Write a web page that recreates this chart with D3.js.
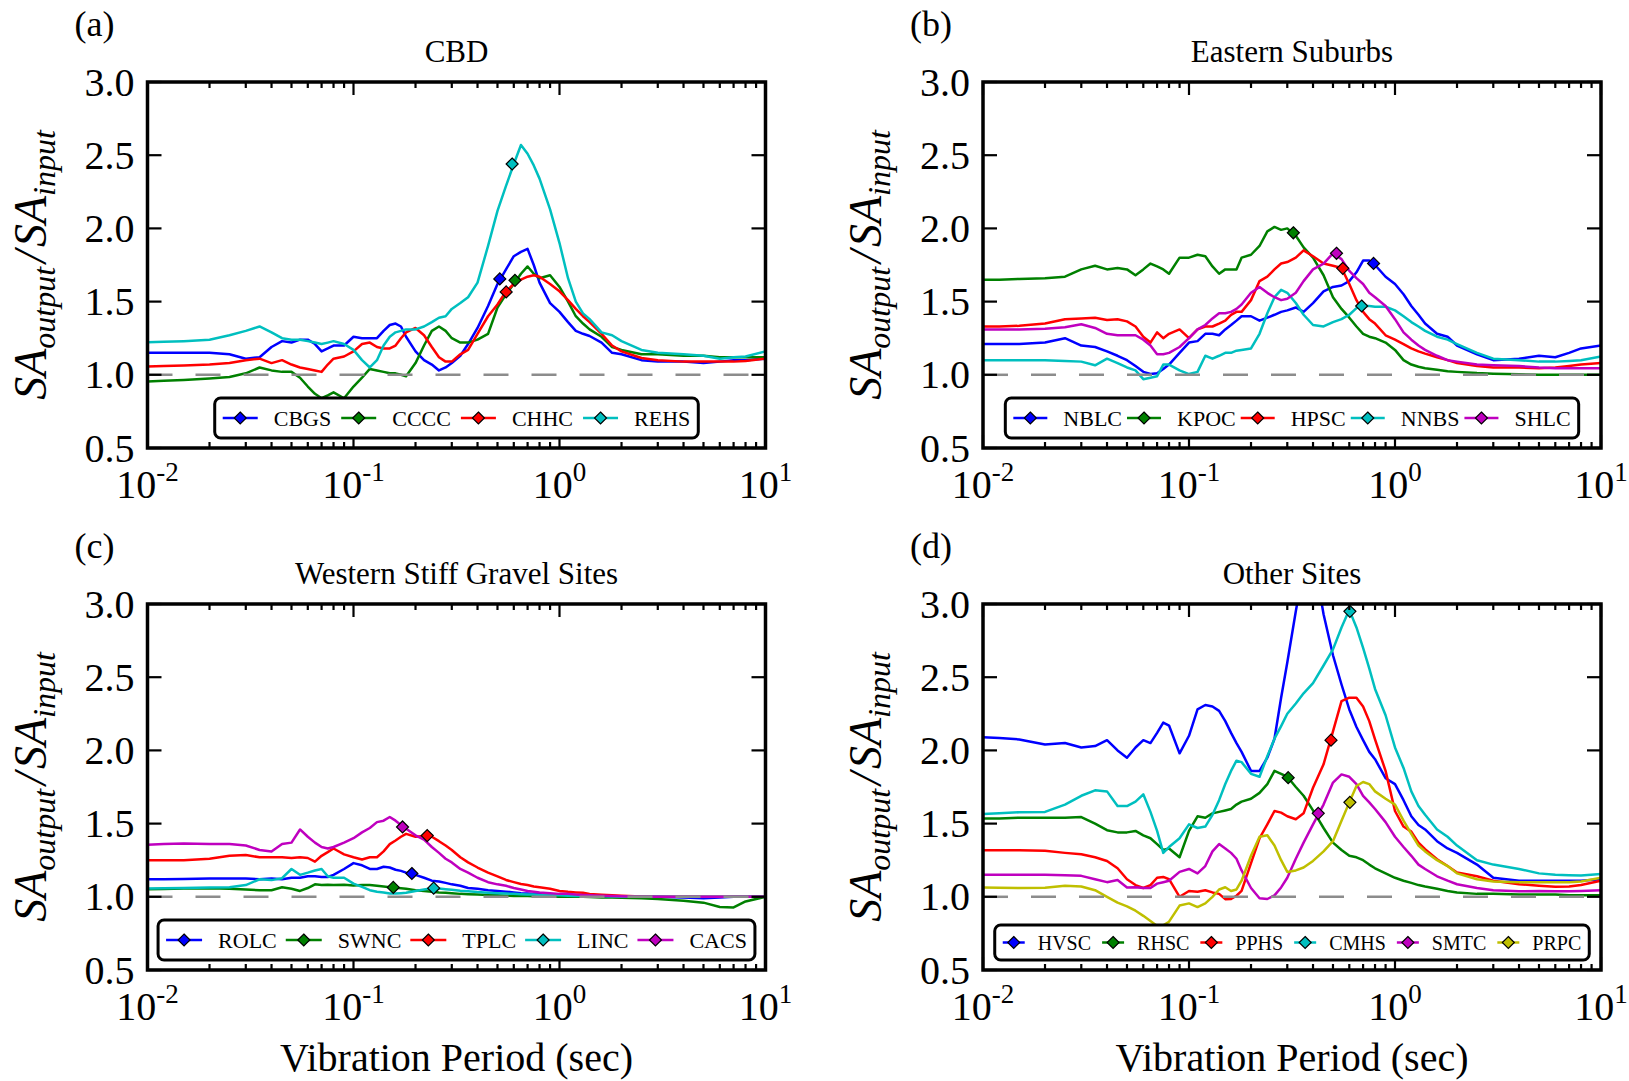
<!DOCTYPE html>
<html>
<head>
<meta charset="utf-8">
<script src="https://cdn.jsdelivr.net/npm/d3@7"></script>
<style>
  body { margin: 0; background: #fff; }
  text { font-family: "Liberation Serif", "Times New Roman", serif; fill: #000; }
</style>
</head>
<body>
<script>
//-----------------------------------------------------//
// Data: period grid (sec) shared by every curve

const periods = [0.01, 0.012, 0.015, 0.02, 0.025, 0.03, 0.035, 0.04, 0.045, 0.05,
  0.055, 0.06, 0.065, 0.07, 0.075, 0.08, 0.09, 0.1, 0.11, 0.12,
  0.13, 0.14, 0.15, 0.16, 0.17, 0.18, 0.2, 0.22, 0.24, 0.26,
  0.28, 0.3, 0.33, 0.36, 0.4, 0.45, 0.5, 0.55, 0.6, 0.65,
  0.7, 0.75, 0.8, 0.9, 1.0, 1.1, 1.2, 1.3, 1.4, 1.6,
  1.8, 2.0, 2.5, 3, 4, 5, 6, 7, 8, 10];

const yTicks = [0.5, 1.0, 1.5, 2.0, 2.5, 3.0];
const xTicks = [0.01, 0.1, 1, 10];
const xTickExp = ["-2", "-1", "0", "1"];

// (a) CBD
const cbdSites = ["CBGS", "CCCC", "CHHC", "REHS"];
const CBGS = [1.15, 1.15, 1.15, 1.15, 1.14, 1.11, 1.12, 1.19, 1.23, 1.22,
  1.24, 1.24, 1.21, 1.16, 1.18, 1.20, 1.20, 1.26, 1.25, 1.25,
  1.25, 1.30, 1.34, 1.35, 1.33, 1.26, 1.16, 1.10, 1.07, 1.03,
  1.05, 1.08, 1.13, 1.21, 1.32, 1.47, 1.62, 1.72, 1.81, 1.84,
  1.86, 1.75, 1.63, 1.49, 1.43, 1.36, 1.30, 1.28, 1.265, 1.22,
  1.15, 1.14, 1.10, 1.09, 1.09, 1.08, 1.09, 1.10, 1.10, 1.11];
const CCCC = [0.955, 0.96, 0.965, 0.975, 0.985, 1.01, 1.05, 1.03, 1.02, 1.02,
  0.98, 0.92, 0.87, 0.84, 0.86, 0.88, 0.84, 0.92, 0.98, 1.04,
  1.03, 1.02, 1.01, 1.01, 1.00, 0.99, 1.08, 1.20, 1.30, 1.33,
  1.30, 1.25, 1.22, 1.22, 1.24, 1.28, 1.46, 1.55, 1.62, 1.69,
  1.74, 1.69, 1.66, 1.68, 1.60, 1.50, 1.40, 1.35, 1.31, 1.26,
  1.19, 1.17, 1.14, 1.14, 1.13, 1.13, 1.12, 1.12, 1.12, 1.12];
const CHHC = [1.057, 1.06, 1.063, 1.07, 1.08, 1.10, 1.11, 1.08, 1.10, 1.07,
  1.05, 1.04, 1.03, 1.02, 1.07, 1.11, 1.125, 1.16, 1.21, 1.22,
  1.19, 1.18, 1.18, 1.20, 1.25, 1.29, 1.32, 1.27, 1.19, 1.12,
  1.09, 1.09, 1.14, 1.17, 1.28, 1.40, 1.48, 1.57, 1.62, 1.65,
  1.67, 1.68, 1.67, 1.62, 1.57, 1.51, 1.45, 1.40, 1.36, 1.28,
  1.20, 1.16, 1.115, 1.10, 1.09, 1.09, 1.09, 1.09, 1.095, 1.11];
const REHS = [1.223, 1.225, 1.23, 1.24, 1.27, 1.30, 1.33, 1.29, 1.25, 1.24,
  1.24, 1.23, 1.22, 1.21, 1.22, 1.23, 1.21, 1.17, 1.10, 1.05,
  1.10, 1.20, 1.26, 1.29, 1.30, 1.31, 1.31, 1.33, 1.36, 1.39,
  1.40, 1.45, 1.49, 1.53, 1.63, 1.88, 2.12, 2.29, 2.44, 2.57,
  2.51, 2.43, 2.34, 2.13, 1.90, 1.66, 1.50, 1.42, 1.38, 1.29,
  1.27, 1.23, 1.17, 1.15, 1.14, 1.13, 1.11, 1.12, 1.125, 1.16];
const cbdMarkT = [0.513, 0.608, 0.551, 0.589];
const cbdMarkV = [1.655, 1.645, 1.566, 2.44];

// (b) Eastern Suburbs
const eastSites = ["NBLC", "KPOC", "HPSC", "NNBS", "SHLC"];
const NBLC = [1.21, 1.21, 1.21, 1.22, 1.25, 1.20, 1.19, 1.16, 1.13, 1.10,
  1.06, 1.02, 1.005, 1.01, 1.04, 1.07, 1.15, 1.22, 1.23, 1.28,
  1.28, 1.27, 1.31, 1.34, 1.37, 1.40, 1.40, 1.37, 1.39, 1.41,
  1.43, 1.44, 1.46, 1.43, 1.49, 1.57, 1.60, 1.61, 1.64, 1.70,
  1.78, 1.78, 1.75, 1.67, 1.62, 1.55, 1.47, 1.41, 1.35, 1.28,
  1.26, 1.20, 1.14, 1.10, 1.11, 1.13, 1.12, 1.15, 1.18, 1.20];
const KPOC = [1.65, 1.65, 1.655, 1.66, 1.67, 1.72, 1.745, 1.72, 1.73, 1.72,
  1.68, 1.72, 1.76, 1.74, 1.72, 1.69, 1.80, 1.80, 1.82, 1.81,
  1.74, 1.69, 1.72, 1.72, 1.72, 1.80, 1.82, 1.88, 1.98, 2.01,
  1.99, 2.00, 1.95, 1.87, 1.80, 1.68, 1.53, 1.45, 1.39, 1.33,
  1.28, 1.26, 1.25, 1.22, 1.17, 1.10, 1.07, 1.055, 1.045, 1.035,
  1.025, 1.02, 1.012, 1.008, 1.003, 1.0, 1.0, 1.0, 1.0, 1.0];
const HPSC = [1.33, 1.33, 1.335, 1.35, 1.38, 1.385, 1.39, 1.375, 1.38, 1.365,
  1.33, 1.26, 1.22, 1.29, 1.25, 1.28, 1.31, 1.25, 1.31, 1.33,
  1.33, 1.35, 1.37, 1.41, 1.43, 1.43, 1.51, 1.64, 1.67, 1.72,
  1.76, 1.77, 1.80, 1.85, 1.81, 1.76, 1.745, 1.73, 1.62, 1.51,
  1.43, 1.38, 1.35, 1.27, 1.24, 1.21, 1.18, 1.16, 1.145, 1.12,
  1.10, 1.08, 1.06, 1.05, 1.05, 1.045, 1.05, 1.06, 1.07, 1.08];
const NNBS = [1.10, 1.10, 1.10, 1.10, 1.095, 1.09, 1.065, 1.11, 1.08, 1.05,
  1.03, 0.97, 0.98, 0.99, 1.07, 1.07, 1.03, 1.005, 1.02, 1.13,
  1.11, 1.13, 1.15, 1.15, 1.165, 1.17, 1.18, 1.28, 1.42, 1.53,
  1.58, 1.56, 1.49, 1.41, 1.34, 1.33, 1.36, 1.38, 1.41, 1.455,
  1.47, 1.47, 1.465, 1.465, 1.44, 1.40, 1.36, 1.33, 1.30, 1.26,
  1.24, 1.21, 1.15, 1.11, 1.10, 1.09, 1.09, 1.095, 1.10, 1.125];
const SHLC = [1.31, 1.31, 1.31, 1.315, 1.325, 1.345, 1.32, 1.28, 1.27, 1.27,
  1.27, 1.24, 1.20, 1.14, 1.14, 1.15, 1.19, 1.25, 1.31, 1.34,
  1.385, 1.42, 1.42, 1.43, 1.45, 1.48, 1.56, 1.60, 1.56, 1.53,
  1.51, 1.52, 1.56, 1.64, 1.72, 1.76, 1.83, 1.79, 1.71, 1.66,
  1.62, 1.56, 1.53, 1.47, 1.38, 1.29, 1.24, 1.20, 1.17, 1.13,
  1.10, 1.09, 1.07, 1.065, 1.06, 1.05, 1.045, 1.045, 1.045, 1.045];
const eastMarkT = [0.787, 0.321, 0.558, 0.689, 0.52];
const eastMarkV = [1.761, 1.97, 1.727, 1.47, 1.83];

// (c) Western Stiff Gravel Sites
const westSites = ["ROLC", "SWNC", "TPLC", "LINC", "CACS"];
const ROLC = [1.12, 1.12, 1.122, 1.125, 1.125, 1.125, 1.12, 1.125, 1.12, 1.13,
  1.13, 1.14, 1.14, 1.135, 1.135, 1.15, 1.19, 1.23, 1.215, 1.19,
  1.19, 1.205, 1.20, 1.185, 1.177, 1.165, 1.15, 1.13, 1.11, 1.105,
  1.095, 1.085, 1.075, 1.06, 1.055, 1.045, 1.04, 1.035, 1.03, 1.025,
  1.023, 1.02, 1.018, 1.015, 1.012, 1.01, 1.008, 1.006, 1.005, 1.003,
  1.0, 1.0, 1.0, 1.0, 0.995, 0.99, 0.995, 1.0, 1.0, 1.0];
const SWNC = [1.052, 1.054, 1.056, 1.058, 1.055, 1.05, 1.045, 1.045, 1.065, 1.055,
  1.04, 1.06, 1.085, 1.08, 1.082, 1.08, 1.082, 1.078, 1.08, 1.08,
  1.075, 1.07, 1.066, 1.062, 1.058, 1.055, 1.045, 1.04, 1.035, 1.03,
  1.027, 1.025, 1.02, 1.018, 1.015, 1.012, 1.01, 1.008, 1.006, 1.005,
  1.005, 1.004, 1.003, 1.002, 1.0, 1.0, 1.0, 1.0, 0.998, 0.996,
  0.995, 0.994, 0.99, 0.985, 0.973, 0.96, 0.93, 0.927, 0.968, 1.0];
const TPLC = [1.25, 1.25, 1.25, 1.26, 1.28, 1.285, 1.27, 1.27, 1.27, 1.265,
  1.27, 1.265, 1.24, 1.28, 1.305, 1.33, 1.29, 1.27, 1.255, 1.27,
  1.27, 1.31, 1.36, 1.385, 1.41, 1.43, 1.41, 1.415, 1.41, 1.38,
  1.35, 1.32, 1.27, 1.235, 1.20, 1.165, 1.14, 1.115, 1.10, 1.087,
  1.08, 1.07, 1.065, 1.055, 1.04, 1.034, 1.03, 1.027, 1.02, 1.014,
  1.01, 1.007, 1.002, 1.0, 1.0, 1.0, 1.0, 1.0, 1.0, 1.0];
const LINC = [1.057, 1.058, 1.06, 1.063, 1.065, 1.08, 1.12, 1.114, 1.127, 1.19,
  1.15, 1.165, 1.18, 1.19, 1.14, 1.13, 1.13, 1.09, 1.068, 1.045,
  1.034, 1.03, 1.023, 1.022, 1.025, 1.028, 1.04, 1.05, 1.058, 1.056,
  1.052, 1.048, 1.042, 1.038, 1.032, 1.028, 1.025, 1.022, 1.02, 1.018,
  1.016, 1.015, 1.013, 1.011, 1.01, 1.008, 1.006, 1.005, 1.004, 1.003,
  1.002, 1.0, 1.0, 1.0, 1.0, 1.0, 1.0, 1.0, 1.0, 1.0];
const CACS = [1.355, 1.36, 1.364, 1.36, 1.36, 1.35, 1.32, 1.31, 1.36, 1.37,
  1.46, 1.41, 1.37, 1.34, 1.33, 1.34, 1.37, 1.40, 1.44, 1.47,
  1.51, 1.52, 1.545, 1.52, 1.49, 1.465, 1.42, 1.39, 1.34, 1.30,
  1.26, 1.235, 1.19, 1.165, 1.13, 1.10, 1.085, 1.075, 1.06, 1.05,
  1.04, 1.035, 1.03, 1.025, 1.02, 1.02, 1.015, 1.012, 1.01, 1.008,
  1.005, 1.003, 1.0, 1.0, 1.0, 1.0, 1.0, 1.0, 1.0, 1.0];
const westMarkT = [0.192, 0.156, 0.228, 0.245, 0.173];
const westMarkV = [1.159, 1.064, 1.418, 1.059, 1.477];

// (d) Other Sites
const otherSites = ["HVSC", "RHSC", "PPHS", "CMHS", "SMTC", "PRPC"];
const HVSC = [2.09, 2.085, 2.075, 2.04, 2.05, 2.02, 2.03, 2.07, 2.00, 1.95,
  2.02, 2.07, 2.05, 2.12, 2.19, 2.17, 1.98, 2.10, 2.28, 2.31,
  2.30, 2.27, 2.20, 2.12, 2.05, 1.99, 1.86, 1.86, 1.95, 2.08,
  2.36, 2.60, 2.95, 3.25, 3.35, 2.93, 2.65, 2.45, 2.28, 2.16,
  2.07, 1.99, 1.94, 1.81, 1.77, 1.66, 1.55, 1.49, 1.46, 1.38,
  1.33, 1.30, 1.22, 1.13, 1.11, 1.11, 1.11, 1.11, 1.11, 1.12];
const RHSC = [1.535, 1.535, 1.54, 1.54, 1.54, 1.545, 1.50, 1.455, 1.44, 1.44,
  1.45, 1.42, 1.40, 1.36, 1.32, 1.33, 1.27, 1.45, 1.55, 1.54,
  1.57, 1.58, 1.59, 1.60, 1.63, 1.65, 1.67, 1.71, 1.77, 1.86,
  1.84, 1.82, 1.75, 1.69, 1.59, 1.47, 1.37, 1.32, 1.28, 1.27,
  1.25, 1.22, 1.195, 1.16, 1.13, 1.11, 1.095, 1.08, 1.07, 1.055,
  1.04, 1.03, 1.02, 1.02, 1.015, 1.015, 1.015, 1.01, 1.01, 1.01];
const PPHS = [1.318, 1.318, 1.318, 1.315, 1.30, 1.29, 1.27, 1.245, 1.195, 1.12,
  1.08, 1.06, 1.08, 1.13, 1.136, 1.12, 1.0, 1.04, 1.035, 1.045,
  1.03, 1.02, 0.984, 0.985, 1.007, 1.04, 1.23, 1.40, 1.495, 1.586,
  1.575, 1.55, 1.53, 1.57, 1.745, 1.905, 2.13, 2.336, 2.36, 2.36,
  2.30, 2.20, 2.075, 1.86, 1.586, 1.48, 1.445, 1.37, 1.325, 1.257,
  1.21, 1.166, 1.14, 1.11, 1.086, 1.075, 1.068, 1.07, 1.08, 1.11];
const CMHS = [1.565, 1.57, 1.578, 1.58, 1.63, 1.69, 1.727, 1.72, 1.62, 1.62,
  1.65, 1.70, 1.58, 1.45, 1.30, 1.34, 1.40, 1.495, 1.47, 1.48,
  1.56, 1.66, 1.77, 1.86, 1.93, 1.92, 1.84, 1.82, 1.96, 2.08,
  2.166, 2.25, 2.32, 2.39, 2.46, 2.58, 2.69, 2.84, 2.96, 2.84,
  2.70, 2.56, 2.42, 2.24, 2.02, 1.88, 1.72, 1.62, 1.56, 1.46,
  1.41, 1.35, 1.25, 1.22, 1.19, 1.16, 1.15, 1.148, 1.145, 1.155];
const SMTC = [1.15, 1.15, 1.15, 1.15, 1.148, 1.143, 1.12, 1.10, 1.115, 1.064,
  1.066, 1.06, 1.06, 1.09, 1.10, 1.11, 1.17, 1.19, 1.16, 1.21,
  1.31, 1.36, 1.33, 1.30, 1.26, 1.18, 1.06, 0.99, 0.985, 1.01,
  1.064, 1.13, 1.26, 1.37, 1.495, 1.63, 1.78, 1.836, 1.82, 1.77,
  1.69, 1.645, 1.60, 1.51, 1.41, 1.34, 1.28, 1.22, 1.19, 1.14,
  1.11, 1.086, 1.06, 1.045, 1.038, 1.04, 1.038, 1.038, 1.04, 1.045];
const PRPC = [1.064, 1.062, 1.06, 1.062, 1.075, 1.07, 1.045, 1.0, 0.96, 0.935,
  0.905, 0.87, 0.835, 0.80, 0.805, 0.83, 0.94, 0.955, 0.93, 0.955,
  1.0, 1.05, 1.065, 1.04, 1.05, 1.11, 1.28, 1.41, 1.42, 1.35,
  1.25, 1.17, 1.18, 1.20, 1.245, 1.31, 1.38, 1.52, 1.645, 1.757,
  1.784, 1.77, 1.72, 1.67, 1.63, 1.52, 1.43, 1.35, 1.31, 1.25,
  1.21, 1.16, 1.12, 1.105, 1.10, 1.10, 1.10, 1.10, 1.105, 1.13];
// HVSC marker lies above the plotted range, so it is not shown
const otherMarkT = [null, 0.303, 0.489, 0.604, 0.424, 0.604];
const otherMarkV = [null, 1.814, 2.07, 2.95, 1.57, 1.645];

//-----------------------------------------------------//

const W = 1629, H = 1081;
const pw = 618, ph = 366;
const colors = ["#0000ff", "#008000", "#ff0000", "#00bfbf", "#bf00bf", "#bfbf00"];

// legend spacing differs a bit between panels in the original
const panels = [
  { tag: "(a)", title: "CBD", left: 147.5, top: 82, names: cbdSites,
    series: [CBGS, CCCC, CHHC, REHS], mT: cbdMarkT, mV: cbdMarkV, xlabel: false,
    leg: { handle: 35, textPad: 16, colGap: 10, font: 22, h: 40 } },
  { tag: "(b)", title: "Eastern Suburbs", left: 983, top: 82, names: eastSites,
    series: [NBLC, KPOC, HPSC, NNBS, SHLC], mT: eastMarkT, mV: eastMarkV, xlabel: false,
    leg: { handle: 34, textPad: 16, colGap: 5, font: 22, h: 40 } },
  { tag: "(c)", title: "Western Stiff Gravel Sites", left: 147.5, top: 604, names: westSites,
    series: [ROLC, SWNC, TPLC, LINC, CACS], mT: westMarkT, mV: westMarkV, xlabel: true,
    leg: { handle: 36, textPad: 16, colGap: 9, font: 22, h: 40 } },
  { tag: "(d)", title: "Other Sites", left: 983, top: 604, names: otherSites,
    series: [HVSC, RHSC, PPHS, CMHS, SMTC, PRPC], mT: otherMarkT, mV: otherMarkV, xlabel: true,
    leg: { handle: 22, textPad: 13, colGap: 11, font: 20, h: 35 } }
];

const svg = d3.select("body").append("svg")
  .attr("width", W).attr("height", H);

const x = d3.scaleLog().domain([0.01, 10]).range([0, pw]);
const y = d3.scaleLinear().domain([0.5, 3]).range([ph, 0]);

// diamond marker like matplotlib "D"
const diamond = r => `M0,${-r}L${r},0L0,${r}L${-r},0Z`;

panels.forEach((p, pi) => {
  const g = svg.append("g").attr("transform", `translate(${p.left},${p.top})`);

  const clipId = "clip" + pi;
  g.append("clipPath").attr("id", clipId)
    .append("rect").attr("width", pw).attr("height", ph);

  const plot = g.append("g").attr("clip-path", `url(#${clipId})`);

  const line = d3.line()
    .x((d, i) => x(periods[i]))
    .y(d => y(d));

  p.series.forEach((s, i) => {
    plot.append("path")
      .attr("d", line(s))
      .attr("fill", "none")
      .attr("stroke", colors[i])
      .attr("stroke-width", 2.5)
      .attr("stroke-linejoin", "round");
  });

  // reference line at ratio 1
  plot.append("line")
    .attr("x1", 0).attr("x2", pw)
    .attr("y1", y(1)).attr("y2", y(1))
    .attr("stroke", "#8c8c8c")
    .attr("stroke-width", 2.5)
    .attr("stroke-dasharray", "25,23");

  p.series.forEach((s, i) => {
    if (p.mT[i] == null) return;
    plot.append("path")
      .attr("d", diamond(6))
      .attr("transform", `translate(${x(p.mT[i])},${y(p.mV[i])})`)
      .attr("fill", colors[i])
      .attr("stroke", "#000")
      .attr("stroke-width", 1.2);
  });

  // ticks (inward on all four sides)
  const tk = g.append("g").attr("stroke", "#000").attr("stroke-width", 2.2);
  yTicks.forEach(v => {
    tk.append("line").attr("x1", 0).attr("x2", 14).attr("y1", y(v)).attr("y2", y(v));
    tk.append("line").attr("x1", pw - 14).attr("x2", pw).attr("y1", y(v)).attr("y2", y(v));
  });
  xTicks.forEach(v => {
    tk.append("line").attr("x1", x(v)).attr("x2", x(v)).attr("y1", ph).attr("y2", ph - 13);
    tk.append("line").attr("x1", x(v)).attr("x2", x(v)).attr("y1", 0).attr("y2", 13);
  });
  [0.01, 0.1, 1].forEach(dec => {
    d3.range(2, 10).forEach(k => {
      const xv = x(dec * k);
      tk.append("line").attr("x1", xv).attr("x2", xv).attr("y1", ph).attr("y2", ph - 6);
      tk.append("line").attr("x1", xv).attr("x2", xv).attr("y1", 0).attr("y2", 6);
    });
  });

  // frame
  g.append("rect")
    .attr("width", pw).attr("height", ph)
    .attr("fill", "none")
    .attr("stroke", "#000")
    .attr("stroke-width", 3.5);

  // tick labels
  yTicks.forEach(v => {
    g.append("text")
      .attr("x", -13).attr("y", y(v)).attr("dy", "0.34em")
      .attr("text-anchor", "end")
      .style("font-size", "40px")
      .text(v.toFixed(1));
  });
  xTicks.forEach((v, i) => {
    const t = g.append("text")
      .attr("x", x(v)).attr("y", ph + 50)
      .attr("text-anchor", "middle")
      .style("font-size", "40px");
    t.append("tspan").text("10");
    t.append("tspan").attr("dy", -17).style("font-size", "27px").text(xTickExp[i]);
  });

  // y label
  const yl = g.append("text")
    .attr("transform", `translate(-102,${ph / 2}) rotate(-90)`)
    .attr("text-anchor", "middle")
    .style("font-style", "italic")
    .style("font-size", "46px");
  yl.append("tspan").text("SA");
  yl.append("tspan").attr("dy", 9).style("font-size", "32px").text("output");
  yl.append("tspan").attr("dy", -9).attr("dx", 4).text("/");
  yl.append("tspan").attr("dx", 3).text("SA");
  yl.append("tspan").attr("dy", 9).style("font-size", "32px").text("input");

  // title, panel tag, x label
  g.append("text")
    .attr("x", pw / 2).attr("y", -20)
    .attr("text-anchor", "middle")
    .style("font-size", "31px")
    .text(p.title);
  g.append("text")
    .attr("x", -73).attr("y", -46)
    .style("font-size", "36px")
    .text(p.tag);
  if (p.xlabel) {
    g.append("text")
      .attr("x", pw / 2).attr("y", ph + 101)
      .attr("text-anchor", "middle")
      .style("font-size", "40px")
      .text("Vibration Period (sec)");
  }

  // legend, one row, centred near the bottom of the axes
  const L = p.leg, pad = 8;
  const lg = g.append("g");
  const box = lg.append("rect");
  const items = lg.append("g");
  let cx = pad;
  p.names.forEach((name, i) => {
    const it = items.append("g").attr("transform", `translate(${cx},${L.h / 2})`);
    it.append("line").attr("x1", 0).attr("x2", L.handle)
      .attr("stroke", colors[i]).attr("stroke-width", 2.5);
    it.append("path").attr("d", diamond(6))
      .attr("transform", `translate(${L.handle / 2},0)`)
      .attr("fill", colors[i]).attr("stroke", "#000").attr("stroke-width", 1.2);
    const t = it.append("text")
      .attr("x", L.handle + L.textPad).attr("dy", "0.35em")
      .style("font-size", L.font + "px")
      .text(name);
    cx += L.handle + L.textPad + t.node().getComputedTextLength() + L.colGap;
  });
  const lw = cx - L.colGap + pad;
  box.attr("width", lw).attr("height", L.h)
    .attr("rx", 6).attr("ry", 6)
    .attr("fill", "#fff").attr("stroke", "#000").attr("stroke-width", 3);
  lg.attr("transform", `translate(${(pw - lw) / 2},${ph - 10 - L.h})`);
});
</script>
</body>
</html>
